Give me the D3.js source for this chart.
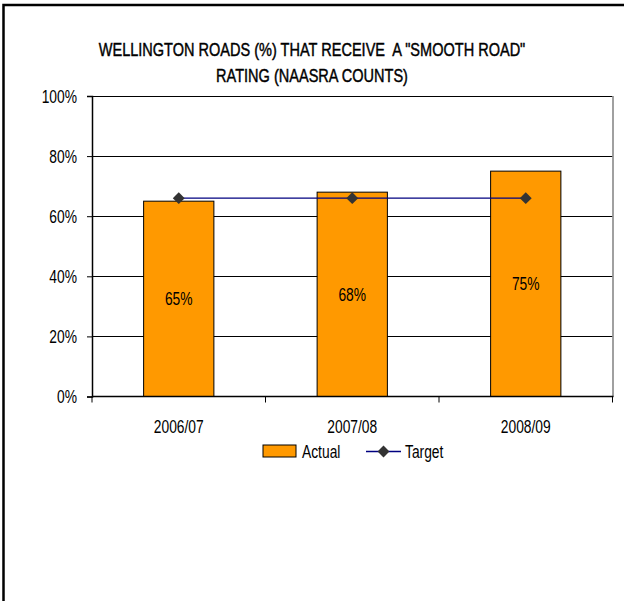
<!DOCTYPE html>
<html>
<head>
<meta charset="utf-8">
<script src="https://cdn.jsdelivr.net/npm/d3@7"></script>
<style>
  html, body { margin: 0; padding: 0; background: #fff; }
  svg text { font-family: "Liberation Sans", Arial, sans-serif; fill: #000; white-space: pre; }
</style>
</head>
<body>
<svg id="chart" width="624" height="601"></svg>
<script>
// Wellington roads smooth-road rating, actual vs target
const categories = ["2006/07", "2007/08", "2008/09"];
const actual = [65, 68, 75];
const target = [66, 66, 66];
const yTicks = [0, 20, 40, 60, 80, 100];
const titleLines = ['WELLINGTON ROADS (%) THAT RECEIVE  A "SMOOTH ROAD"', 'RATING (NAASRA COUNTS)'];

const svg = d3.select("#chart");
const NARROW = 0.79; // horizontal squeeze for a condensed look

// Place a condensed text label at (x, y)
function label(g, x, y, txt, size, anchor, sx) {
  return g.append("text")
    .attr("transform", `translate(${x},${y}) scale(${sx || NARROW},1)`)
    .attr("text-anchor", anchor || "start")
    .attr("font-size", size)
    .text(txt);
}

// Outer chart frame (runs past the right and bottom edges)
svg.append("rect")
  .attr("x", 3.5).attr("y", 5).attr("width", 700).attr("height", 700)
  .attr("fill", "none").attr("stroke", "#000").attr("stroke-width", 2.5);

const plot = { left: 92, right: 612.5, top: 96, bottom: 396.5 };

const x = d3.scaleBand().domain(categories).range([plot.left, plot.right]).paddingInner(0).paddingOuter(0);
const y = d3.scaleLinear().domain([0, 100]).range([plot.bottom, plot.top]);
const barW = x.bandwidth() * 0.405;

// Title, slightly heavier than the other text
const tg = svg.append("g");
titleLines.forEach((t, i) =>
  label(tg, 312, 56 + i * 26, t, 19, "middle", 0.765)
    .attr("stroke", "#000").attr("stroke-width", 0.45));

// Gridlines
svg.append("g").selectAll("line").data(yTicks.filter(t => t > 0)).join("line")
  .attr("x1", plot.left).attr("x2", plot.right)
  .attr("y1", d => Math.round(y(d)) + 0.5).attr("y2", d => Math.round(y(d)) + 0.5)
  .attr("stroke", "#000").attr("stroke-width", 1);

// Plot area right border
svg.append("line")
  .attr("x1", plot.right + 0.5).attr("x2", plot.right + 0.5)
  .attr("y1", plot.top).attr("y2", plot.bottom)
  .attr("stroke", "#808080").attr("stroke-width", 1.5);

// Bars
svg.append("g").selectAll("rect").data(actual).join("rect")
  .attr("x", (d, i) => x(categories[i]) + (x.bandwidth() - barW) / 2)
  .attr("y", d => y(d))
  .attr("width", barW)
  .attr("height", d => y(0) - y(d))
  .attr("fill", "#FF9900").attr("stroke", "#000").attr("stroke-width", 1);

// Bar value labels
const vg = svg.append("g");
actual.forEach((d, i) =>
  label(vg, x(categories[i]) + x.bandwidth() / 2, (y(d) + y(0)) / 2 + 6.5, d + "%", 17.5, "middle"));

// Y axis (ticks from the axis generator, labels drawn condensed)
const yAxis = svg.append("g")
  .attr("transform", `translate(${plot.left},0)`)
  .call(d3.axisLeft(y).tickValues(yTicks).tickSize(5).tickFormat(""));
yAxis.select(".domain").attr("stroke", "#000").attr("stroke-width", 1.5);
yAxis.selectAll(".tick line").attr("stroke", "#000");
const yl = svg.append("g");
yTicks.forEach(t => label(yl, plot.left - 15, y(t) + 6.5, t + "%", 17.5, "end"));

// X axis with ticks on category boundaries
const xg = svg.append("g").attr("transform", `translate(0,${plot.bottom})`);
xg.append("line").attr("x1", plot.left).attr("x2", plot.right + 1)
  .attr("stroke", "#000").attr("stroke-width", 1.5);
const bounds = categories.map(c => x(c)).concat([plot.right]);
xg.selectAll("line.b").data(bounds).join("line").attr("class", "b")
  .attr("x1", d => d).attr("x2", d => d).attr("y1", 0).attr("y2", 6)
  .attr("stroke", "#000").attr("stroke-width", 1);
categories.forEach(c => label(xg, x(c) + x.bandwidth() / 2, 36, c, 17.5, "middle"));

// Target line and diamonds
const cx = (d, i) => x(categories[i]) + x.bandwidth() / 2;
svg.append("path")
  .attr("d", d3.line().x(cx).y(d => y(d))(target))
  .attr("fill", "none").attr("stroke", "#000080").attr("stroke-width", 1.3);
const diamond = d3.symbol().type(d3.symbolDiamond2).size(90);
svg.append("g").selectAll("path").data(target).join("path")
  .attr("transform", (d, i) => `translate(${cx(d, i)},${y(d)})`)
  .attr("d", diamond).attr("fill", "#333");

// Legend
const lg = svg.append("g");
lg.append("rect").attr("x", 263).attr("y", 445).attr("width", 33).attr("height", 12)
  .attr("fill", "#FF9900").attr("stroke", "#000");
label(lg, 302, 458, "Actual", 17.5, "start");
lg.append("line").attr("x1", 366).attr("x2", 401).attr("y1", 451.5).attr("y2", 451.5)
  .attr("stroke", "#000080").attr("stroke-width", 1.3);
lg.append("path").attr("transform", "translate(383.5,451.5)").attr("d", diamond).attr("fill", "#333");
label(lg, 405, 458, "Target", 17.5, "start");
</script>
</body>
</html>
